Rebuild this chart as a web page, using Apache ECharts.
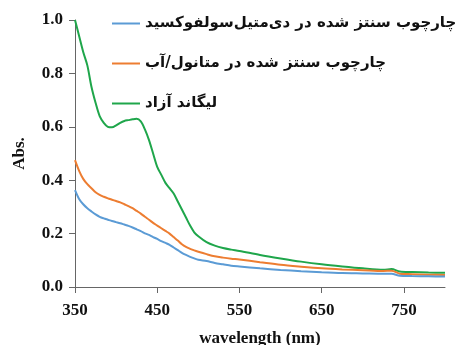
<!DOCTYPE html>
<html><head><meta charset="utf-8">
<script src="https://cdn.jsdelivr.net/npm/echarts@6/dist/echarts.min.js"></script>
<style>html,body{margin:0;padding:0;background:#fff}#c{width:466px;height:345px}</style>
</head><body><div id="c"></div>
<script>
var wavelengths = [350,355,360,365,370,375,380,385,390,395,400,405,410,415,420,425,430,435,440,445,450,455,460,465,470,475,480,485,490,495,500,510,520,530,540,550,575,600,625,650,675,700,725,735,745,760,780,800];
var dmsoValues = [0.363,0.33,0.31,0.295,0.283,0.272,0.263,0.257,0.252,0.247,0.243,0.239,0.234,0.229,0.223,0.216,0.209,0.201,0.195,0.187,0.18,0.172,0.165,0.158,0.148,0.138,0.128,0.12,0.113,0.107,0.102,0.097,0.09,0.085,0.08,0.077,0.07,0.064,0.059,0.055,0.052,0.051,0.05,0.05,0.042,0.041,0.04,0.039];
var methanolValues = [0.475,0.435,0.405,0.385,0.37,0.355,0.345,0.338,0.332,0.327,0.322,0.317,0.31,0.303,0.295,0.285,0.275,0.263,0.252,0.24,0.23,0.22,0.21,0.2,0.187,0.174,0.16,0.15,0.143,0.137,0.132,0.123,0.115,0.11,0.106,0.103,0.093,0.083,0.076,0.07,0.066,0.063,0.06,0.061,0.05,0.048,0.046,0.045];
var ligandValues = [1.0,0.94,0.88,0.83,0.75,0.69,0.64,0.615,0.6,0.598,0.605,0.615,0.622,0.625,0.628,0.63,0.62,0.59,0.55,0.5,0.45,0.42,0.39,0.37,0.35,0.32,0.29,0.26,0.23,0.205,0.19,0.168,0.155,0.146,0.14,0.135,0.12,0.107,0.095,0.085,0.077,0.07,0.065,0.067,0.058,0.056,0.054,0.053];
var seriesNames = ['چارچوب سنتز شده در دی‌متیل‌سولفوکسید','چارچوب سنتز شده در متانول/آب','لیگاند آزاد'];
var xTicks = [350,450,550,650,750];
var colors = ['#5b9bd5','#ed7d31','#1fa64b'];

function pairs(vals){ return wavelengths.map(function(w,i){ return [w, vals[i]]; }); }
var all = [dmsoValues, methanolValues, ligandValues];
var serif = '"Liberation Serif","Times New Roman",serif';
var chart = echarts.init(document.getElementById('c'));
chart.setOption({
  animation:false,
  grid:{left:75,right:21,top:20,bottom:58,outerBoundsMode:'none',containLabel:false},
  legend:{
    orient:'vertical', left:107, top:8, itemWidth:28, itemHeight:2, itemGap:19, icon:'rect',
    textStyle:{fontFamily:'"DejaVu Sans",sans-serif', fontWeight:'bold', fontSize:15, color:'#111', lineHeight:21},
    data:seriesNames
  },
  xAxis:{
    type:'value', min:350, max:800,
    name:'wavelength (nm)', nameLocation:'middle', nameGap:43,
    nameTextStyle:{fontFamily:serif, fontWeight:'bold', fontSize:17, color:'#111'},
    axisLine:{lineStyle:{color:'#666', width:1}},
    axisTick:{show:true, length:6, lineStyle:{color:'#666'}, customValues:xTicks},
    axisLabel:{fontFamily:serif, fontWeight:'bold', fontSize:17, color:'#111', margin:15, customValues:xTicks},
    splitLine:{show:false}
  },
  yAxis:{
    type:'value', min:0, max:1, interval:0.2,
    name:'Abs.', nameLocation:'middle', nameGap:47, nameRotate:90,
    nameTextStyle:{fontFamily:serif, fontWeight:'bold', fontSize:17, color:'#111'},
    axisLine:{show:true, lineStyle:{color:'#666', width:1}},
    axisTick:{show:true, length:6, lineStyle:{color:'#666'}},
    axisLabel:{fontFamily:serif, fontWeight:'bold', fontSize:17, color:'#111', margin:12,
      formatter:function(v){return v.toFixed(1);}},
    splitLine:{show:false}
  },
  series: seriesNames.map(function(n,i){
    return {name:n, type:'line', data:pairs(all[i]), symbol:'none', smooth:0.3,
      lineStyle:{color:colors[i], width:2}, itemStyle:{color:colors[i]}, z: 3-i};
  })
});
</script></body></html>
